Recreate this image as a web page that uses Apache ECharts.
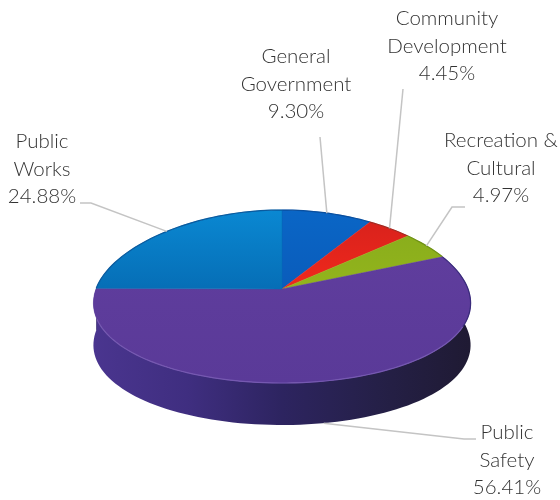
<!DOCTYPE html>
<html>
<head>
<meta charset="utf-8">
<style>html,body{margin:0;padding:0;background:#fff}#chart{width:560px;height:500px}</style>
<script src="https://cdn.jsdelivr.net/npm/echarts@6/dist/echarts.min.js"></script>
</head>
<body>
<div id="chart"></div>
<script>
// Budget shares, clockwise from twelve o'clock.
const sliceNames = ['General\nGovernment', 'Community\nDevelopment', 'Recreation &\nCultural', 'Public\nSafety', 'Public\nWorks'];
const sliceShares = [9.30, 4.45, 4.97, 56.41, 24.88];

// Appearance of each slice, in the same order.
const sliceLook = [
  { top: '#0a66c6', bottom: '#0a5cbb', rim: '#0a4f9e' },
  { top: '#d9221c', bottom: '#f0281c', rim: '#a02a22' },
  { top: '#8aae1c', bottom: '#93b41c', rim: '#6f9116' },
  { top: '#5f3d9d', bottom: '#5a3a98', rim: '#7558b0', rimBack: '#3a2c7c' },
  { top: '#0a88d2', bottom: '#066eb6', rim: '#0a5a9e' }
];

// Where each caption sits and the bend points of its leader line.
const captionLayout = [
  { x: 296, y: 84, knots: [[320, 137]] },
  { x: 447, y: 46, knots: [[403, 89]] },
  { x: 501, y: 168, knots: [[465, 207], [452, 207]] },
  { x: 507, y: 460, knots: [[476, 439], [464, 439]] },
  { x: 42, y: 169, knots: [[80, 203], [91, 203]] }
];

// Projection of the tilted disc: a slight perspective makes the near edge larger.
const disc = { cx: 282, cy: 289, a: 186, b: 86.5, kx: 0.17, ky: 0.087, depth: 42 };
function project(deg, drop) {
  const t = deg * Math.PI / 180, s = Math.sin(t), c = Math.cos(t);
  return [
    disc.cx + disc.a * s * (1 - disc.kx * c),
    disc.cy - disc.b * c * (1 - disc.ky * c) + (drop || 0)
  ];
}
function arc(from, to, drop) {
  const pts = [], n = Math.max(2, Math.ceil(Math.abs(to - from) / 2));
  for (let i = 0; i <= n; i++) pts.push(project(from + (to - from) * i / n, drop));
  return pts;
}

const total = sliceShares.reduce((p, v) => p + v, 0);
function sliceRange(i) {
  let before = 0;
  for (let k = 0; k < i; k++) before += sliceShares[k];
  return [before / total * 360, (before + sliceShares[i]) / total * 360];
}
const gradient = (x2, y2, stops) => new echarts.graphic.LinearGradient(0, 0, x2, y2,
  stops.map((c, i) => ({ offset: i / (stops.length - 1), color: c })));

// The visible side wall of the disc.
function renderWall(params, api) {
  const [from, to] = sliceRange(params.dataIndex);
  const lo = Math.max(from, 80), hi = Math.min(to, 271);
  if (hi <= lo) return { type: 'group', children: [] };
  const top = arc(lo, hi, 0), bottom = arc(hi, lo, disc.depth);
  return {
    type: 'polygon',
    shape: { points: top.concat(bottom) },
    style: {
      fill: gradient(1, 0, ['#4a358f', '#3f2e80', '#2d2460', '#252048', '#1f1a33'])
    }
  };
}

// The flat top face of each slice with its rim highlight.
function renderTop(params, api) {
  const i = params.dataIndex, look = sliceLook[i];
  const [from, to] = sliceRange(i);
  const children = [{
    type: 'polygon',
    shape: { points: [[disc.cx, disc.cy]].concat(arc(from, to, 0)) },
    style: { fill: gradient(0, 1, [look.top, look.bottom]), stroke: look.bottom, lineWidth: 0.5 }
  }];
  const bend = look.rimBack ? 115 : from;
  if (look.rimBack) {
    children.push({
      type: 'polyline',
      shape: { points: arc(from, bend, 0) },
      style: { fill: null, stroke: look.rimBack, lineWidth: 1.2 }
    });
  }
  children.push({
    type: 'polyline',
    shape: { points: arc(bend, look.rimBack ? 250 : to, 0) },
    style: { fill: null, stroke: look.rim, lineWidth: 1.2 }
  });
  return { type: 'group', children };
}

// Leader lines and captions.
function renderCaption(params, api) {
  const i = params.dataIndex, spot = captionLayout[i];
  const [from, to] = sliceRange(i);
  const mid = (from + to) / 2;
  const front = mid > 90 && mid < 270;
  const end = project(mid, front ? disc.depth : 0);
  return {
    type: 'group',
    children: [
      {
        type: 'polyline',
        shape: { points: spot.knots.concat([end]) },
        style: { fill: null, stroke: '#c4c4c4', lineWidth: 1.5 }
      },
      {
        type: 'text',
        style: {
          x: spot.x,
          y: spot.y,
          text: sliceNames[i] + '\n' + api.value(0).toFixed(2) + '%',
          font: '300 20.5px Lato, "Open Sans", sans-serif',
          lineHeight: 27.5,
          fill: '#333333',
          align: 'center',
          verticalAlign: 'middle'
        }
      }
    ]
  };
}

const chart = echarts.init(document.getElementById('chart'), null, { renderer: 'canvas' });
const shared = { type: 'custom', coordinateSystem: 'none', data: sliceShares, silent: true, animation: false };
chart.setOption({
  backgroundColor: '#ffffff',
  animation: false,
  series: [
    Object.assign({ renderItem: renderWall, z: 1 }, shared),
    Object.assign({ renderItem: renderTop, z: 2 }, shared),
    Object.assign({ renderItem: renderCaption, z: 3 }, shared)
  ]
});
</script>
</body>
</html>
